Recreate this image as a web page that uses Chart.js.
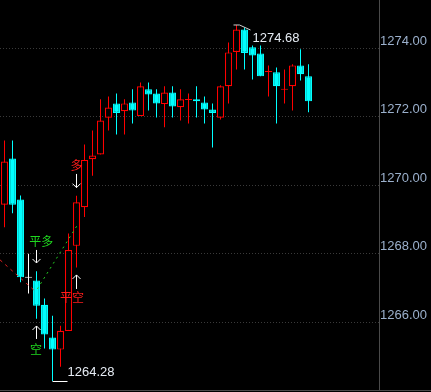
<!DOCTYPE html>
<html>
<head>
<meta charset="utf-8">
<script src="https://cdn.jsdelivr.net/npm/chart.js@4.4.1/dist/chart.umd.min.js"></script>
<style>
  html, body { margin: 0; padding: 0; background: #000; }
  #wrap { width: 431px; height: 392px; }
</style>
</head>
<body>
<div id="wrap"><canvas id="kline"></canvas></div>
<script>
// OHLC per bar, left to right
const opens  = [1269.43, 1270.78, 1269.58, 1267.30, 1267.22, 1266.51, 1265.55, 1265.20, 1265.74, 1268.23,
                1269.36, 1270.76, 1270.90, 1271.97, 1272.39, 1272.16, 1272.42, 1272.02, 1272.80, 1272.68,
                1272.37, 1272.71, 1272.28, 1272.49, 1272.51, 1272.42, 1272.21, 1271.97, 1272.89, 1273.89,
                1274.55, 1274.03, 1273.85, 1273.31, 1273.30, 1272.79, 1272.89, 1273.50, 1273.18];
const highs  = [1271.31, 1271.31, 1269.70, 1268.00, 1267.49, 1266.69, 1266.19, 1265.90, 1268.59, 1269.69,
                1271.19, 1271.60, 1272.51, 1272.59, 1272.68, 1272.51, 1272.80, 1273.00, 1273.00, 1272.80,
                1272.89, 1272.89, 1272.80, 1272.68, 1272.89, 1272.59, 1272.39, 1272.92, 1274.17, 1274.68,
                1274.61, 1274.08, 1274.08, 1273.50, 1273.44, 1273.38, 1273.53, 1273.97, 1273.53];
const lows   = [1268.77, 1269.18, 1267.17, 1266.84, 1266.10, 1265.23, 1264.28, 1264.70, 1265.74, 1267.60,
                1269.07, 1270.28, 1270.90, 1271.60, 1271.48, 1271.48, 1271.80, 1272.02, 1272.18, 1271.98,
                1271.69, 1271.98, 1271.89, 1271.80, 1271.98, 1271.80, 1271.10, 1271.92, 1272.39, 1273.38,
                1273.38, 1273.09, 1273.18, 1272.59, 1271.80, 1272.39, 1272.18, 1273.06, 1272.13];
const closes = [1270.69, 1269.43, 1267.31, 1267.30, 1266.48, 1265.64, 1265.20, 1265.75, 1268.11, 1269.50,
                1270.74, 1270.87, 1271.89, 1272.27, 1272.11, 1272.39, 1272.18, 1272.89, 1272.65, 1272.39,
                1272.71, 1272.30, 1272.51, 1272.51, 1272.45, 1272.21, 1272.11, 1272.89, 1273.88, 1274.55,
                1273.86, 1273.79, 1273.18, 1273.32, 1272.89, 1272.80, 1273.50, 1273.24, 1272.45];

const tickValues = [1266, 1268, 1270, 1272, 1274];

// trade signals: text, bar position, price
const signalText  = ['平多', '空', '平空', '多'];
const signalIdx   = [4.6, 3.95, 8.45, 9.0];
const signalPrice = [1268.37, 1265.20, 1266.71, 1270.58];
const signalColors = ['#1fd81f', '#1fd81f', '#ff1c1c', '#ff1c1c'];

// arrows: bar, tail price, head price
const arrowIdx  = [4, 4, 9, 9];
const arrowFrom = [1268.11, 1265.51, 1266.97, 1270.33];
const arrowTo   = [1267.73, 1265.89, 1267.38, 1269.93];

// dashed position lines
const shortLine = [{ x: -0.56, y: 1267.82 }, { x: 3.95, y: 1266.88 }];
const longLine  = [{ x: 4.1, y: 1266.97 }, { x: 9.2, y: 1268.87 }];

const RED = '#ff0000';
const CYAN = '#00ffff';

const idx = opens.map((_, i) => i);
const candleColor = i => {
  if (closes[i] > opens[i]) return RED;
  if (closes[i] < opens[i]) return CYAN;
  return '#ffffff';
};
const bodyFill = i => {
  if (closes[i] > opens[i] && closes[i] - opens[i] > 0.05) return '#000';
  return candleColor(i);
};

const overlay = {
  id: 'overlay',
  afterDatasetsDraw(chart) {
    const { ctx, chartArea, scales: { x, y } } = chart;
    ctx.save();

    // bottom frame line
    ctx.strokeStyle = '#4a4a4a';
    ctx.lineWidth = 1;
    ctx.beginPath();
    ctx.moveTo(0, chartArea.bottom + 0.5);
    ctx.lineTo(chart.width, chartArea.bottom + 0.5);
    ctx.stroke();

    // arrows
    ctx.strokeStyle = '#ffffff';
    arrowIdx.forEach((a, k) => {
      const px = Math.floor(x.getPixelForValue(a)) + 0.5;
      const y0 = y.getPixelForValue(arrowFrom[k]);
      const y1 = y.getPixelForValue(arrowTo[k]);
      const d = y1 > y0 ? -4 : 4;
      ctx.beginPath();
      ctx.moveTo(px, y0);
      ctx.lineTo(px, y1);
      ctx.moveTo(px - 4, y1 + d);
      ctx.lineTo(px, y1);
      ctx.lineTo(px + 4, y1 + d);
      ctx.stroke();
    });

    // signal texts
    ctx.font = '12px "Noto Sans CJK SC"';
    ctx.textAlign = 'center';
    ctx.textBaseline = 'middle';
    signalText.forEach((t, k) => {
      ctx.fillStyle = signalColors[k];
      ctx.fillText(t, x.getPixelForValue(signalIdx[k]), y.getPixelForValue(signalPrice[k]));
    });

    // extreme price labels
    const low = Math.min(...lows);
    const high = Math.max(...highs);
    const lowAt = lows.indexOf(low);
    const highAt = highs.indexOf(high);

    ctx.font = '13px "Liberation Sans", Arial, sans-serif';
    ctx.fillStyle = '#e6ecf4';
    ctx.textAlign = 'left';

    const lx = x.getPixelForValue(lowAt);
    const ly = Math.round(y.getPixelForValue(low)) + 0.5;
    ctx.strokeStyle = '#ffffff';
    ctx.beginPath();
    ctx.moveTo(lx, ly);
    ctx.lineTo(lx + 15, ly);
    ctx.stroke();
    ctx.fillText(low.toFixed(2), lx + 15, ly - 9);

    const hx = x.getPixelForValue(highAt);
    const hy = y.getPixelForValue(high);
    ctx.strokeStyle = '#cfcfcf';
    ctx.beginPath();
    ctx.moveTo(hx - 3, hy);
    ctx.lineTo(hx + 3, hy);
    ctx.lineTo(hx + 14, hy + 5);
    ctx.stroke();
    ctx.fillText(high.toFixed(2), hx + 16, hy + 13);

    ctx.restore();
  }
};

new Chart(document.getElementById('kline'), {
  type: 'bar',
  data: {
    datasets: [
      {
        type: 'line',
        data: shortLine,
        borderColor: '#e02020',
        borderWidth: 1,
        borderDash: [3, 4],
        pointRadius: 0,
        order: 0
      },
      {
        type: 'line',
        data: longLine,
        borderColor: '#22cc22',
        borderWidth: 1,
        borderDash: [2, 4],
        pointRadius: 0,
        order: 0
      },
      {
        data: idx.map(i => ({ x: i, y: [opens[i], closes[i]] })),
        backgroundColor: ctx => bodyFill(ctx.dataIndex),
        borderColor: ctx => candleColor(ctx.dataIndex),
        borderWidth: 1.2,
        borderSkipped: false,
        barThickness: 7,
        maxBarThickness: 7,
        minBarLength: 1,
        inflateAmount: 0,
        grouped: false,
        order: 1
      },
      {
        data: idx.map(i => ({ x: i, y: [lows[i], highs[i]] })),
        backgroundColor: ctx => candleColor(ctx.dataIndex),
        borderWidth: 0,
        barThickness: 1,
        maxBarThickness: 1,
        inflateAmount: 0,
        grouped: false,
        order: 2
      }
    ]
  },
  options: {
    responsive: true,
    maintainAspectRatio: false,
    animation: false,
    layout: { padding: { left: 0, right: 0, top: 0, bottom: 2 } },
    plugins: {
      legend: { display: false },
      tooltip: { enabled: false }
    },
    scales: {
      x: {
        type: 'linear',
        display: false,
        offset: false,
        min: -0.5625,
        max: 46.8125
      },
      y: {
        position: 'right',
        min: 1264.02,
        max: 1275.41,
        afterBuildTicks: s => { s.ticks = tickValues.map(v => ({ value: v })); },
        afterFit: s => {
          s.width = 52;
          s.paddingTop = 0;
          s.paddingBottom = 0;
        },
        grid: { color: '#3a3a3a', drawTicks: false },
        border: { display: true, color: '#4a4a4a', dash: [1, 2] },
        ticks: {
          color: '#9bb0cc',
          font: { family: '"Liberation Sans", Arial, sans-serif', size: 13 },
          padding: 1,
          labelOffset: -7,
          callback: v => Number(v).toFixed(2)
        }
      }
    }
  },
  plugins: [overlay]
});
</script>
</body>
</html>
